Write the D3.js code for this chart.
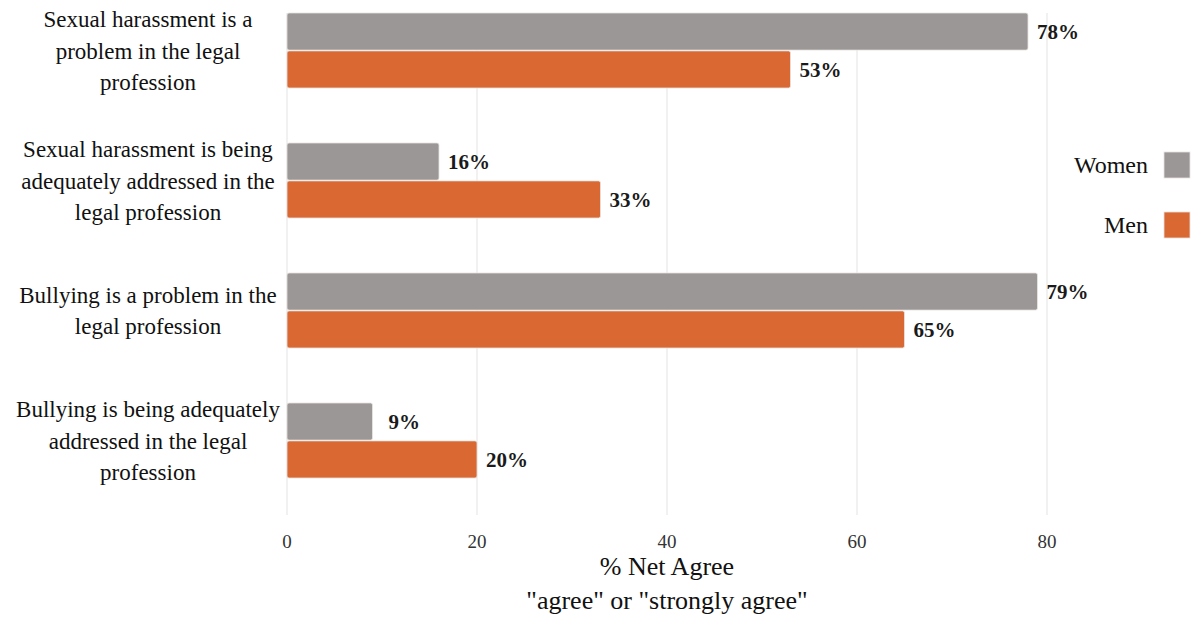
<!DOCTYPE html>
<html><head><meta charset="utf-8">
<script src="https://cdn.jsdelivr.net/npm/d3@7"></script>
<style>body{margin:0;background:#fff}svg{display:block}text{font-family:"Liberation Serif","DejaVu Serif",serif}</style>
</head><body><svg id="c" width="1193" height="619"></svg>
<script>
const categories = [
  ["Sexual harassment is a","problem in the legal","profession"],
  ["Sexual harassment is being","adequately addressed in the","legal profession"],
  ["Bullying is a problem in the","legal profession"],
  ["Bullying is being adequately","addressed in the legal","profession"]
];
const seriesNames = ["Women","Men"];
const women = [78,16,79,9];
const men = [53,33,65,20];
const xTicks = [0,20,40,60,80];
const colors = ["#9b9796","#d96832"];
const axisTitle = ["% Net Agree","\"agree\" or \"strongly agree\""];

const svg = d3.select("#c");
const x = d3.scaleLinear().domain([0,100]).range([287,1237]);
const idx = d3.range(categories.length);
const y = d3.scaleBand().domain(idx).range([-14.5,505.5]).paddingInner(0.423).paddingOuter(0.2115);
const ys = d3.scaleBand().domain([0,1]).range([0,y.bandwidth()]).paddingInner(0.02);

svg.append("g").selectAll("line").data(xTicks).join("line")
  .attr("x1",d=>x(d)).attr("x2",d=>x(d)).attr("y1",13).attr("y2",515)
  .attr("stroke","#e3e3e3").attr("stroke-width",1);

const data = [];
idx.forEach(i=>{ data.push({i,s:0,v:women[i]}); data.push({i,s:1,v:men[i]}); });

svg.append("g").selectAll("rect").data(data).join("rect")
  .attr("x",x(0)).attr("y",d=>y(d.i)+ys(d.s)).attr("width",d=>x(d.v)-x(0)).attr("height",ys.bandwidth())
  .attr("rx",2).attr("fill",d=>colors[d.s]).attr("stroke","#e8e4e2").attr("stroke-width",0.8);

svg.append("g").selectAll("text").data(data).join("text")
  .attr("x",d=>x(d.v)+(d.v<10?16:9)).attr("y",d=>y(d.i)+ys(d.s)+ys.bandwidth()/2)
  .attr("dy","0.35em").attr("font-size",21).attr("font-weight","bold").attr("fill","#1a1a1a")
  .text(d=>d.v+"%");

const lh = 31.5;
categories.forEach((lines,i)=>{
  const cy = y(i)+y.bandwidth()/2;
  const t = svg.append("text").attr("x",148).attr("text-anchor","middle").attr("font-size",23).attr("fill","#111");
  lines.forEach((l,k)=>{
    t.append("tspan").attr("x",148).attr("y",cy+(k-(lines.length-1)/2)*lh).attr("dy","0.35em").text(l);
  });
});

svg.append("g").selectAll("text").data(xTicks).join("text")
  .attr("x",d=>x(d)).attr("y",541).attr("dy","0.35em").attr("text-anchor","middle")
  .attr("font-size",19).attr("fill","#333").text(d=>d);

axisTitle.forEach((t,k)=>{
  svg.append("text").attr("x",667).attr("y",567+k*34).attr("dy","0.32em").attr("text-anchor","middle")
    .attr("font-size",26).attr("fill","#111").text(t);
});

seriesNames.forEach((n,k)=>{
  const cy = 165+k*60;
  svg.append("rect").attr("x",1164).attr("y",cy-13).attr("width",26).attr("height",26).attr("fill",colors[k]).attr("stroke","#e8e4e2").attr("stroke-width",0.8);
  svg.append("text").attr("x",1148).attr("y",cy).attr("dy","0.35em").attr("text-anchor","end").attr("font-size",24).attr("fill","#111").text(n);
});
</script></body></html>
